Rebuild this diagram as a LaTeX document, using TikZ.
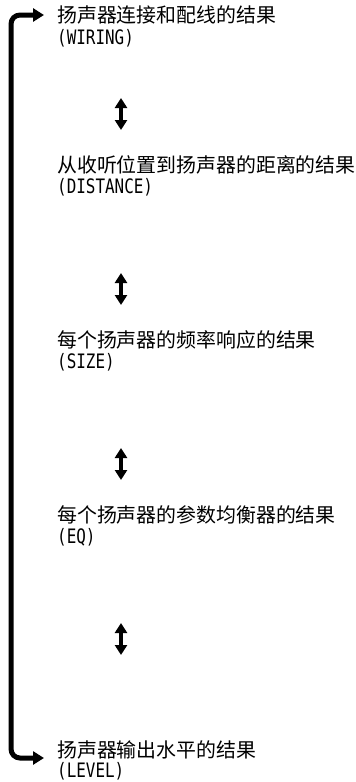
\documentclass[tikz,border=0pt]{standalone}
\usepackage{fontspec}
\newfontfamily\cjk{Noto Sans CJK SC}
\newfontfamily\lat[FakeStretch=0.8]{DejaVu Sans Mono}
\usetikzlibrary{arrows.meta}
\begin{document}
\begin{tikzpicture}[x=1pt,y=-1pt,
  title/.style={anchor=base west,inner sep=0pt,font=\cjk\fontsize{19.9}{22}\selectfont},
  sub/.style={anchor=base west,inner sep=0pt,font=\lat\fontsize{19.9}{22}\selectfont},
  bracket/.style={line width=5pt,rounded corners=9pt,{Triangle[width=13pt,length=11pt]}-{Triangle[width=13pt,length=11pt]}},
  swap/.style={line width=3.5pt,{Triangle[width=12pt,length=10pt]}-{Triangle[width=12pt,length=10pt]}}]
\useasboundingbox[fill=white] (0,0) rectangle (356,782);
% texts
\node[title] (t1) at (57,22) {扬声器连接和配线的结果};
\node[sub]   (s1) at (57,44) {(WIRING)};
\node[title] (t2) at (57,172) {从收听位置到扬声器的距离的结果};
\node[sub]   (s2) at (57,193) {(DISTANCE)};
\node[title] (t3) at (57,347) {每个扬声器的频率响应的结果};
\node[sub]   (s3) at (57,368) {(SIZE)};
\node[title] (t4) at (57,522) {每个扬声器的参数均衡器的结果};
\node[sub]   (s4) at (57,543) {(EQ)};
\node[title] (t5) at (57,757) {扬声器输出水平的结果};
\node[sub]   (s5) at (57,777) {(LEVEL)};
% bracket
\coordinate (ttop) at (44,15);
\coordinate (ctop) at (11,15);
\coordinate (cbot) at (11,758);
\coordinate (tbot) at (44,758);
\draw[bracket] (ttop) -- (ctop) -- (cbot) -- (tbot);
% double arrows
\foreach \i/\y in {1/114,2/289,3/464,4/639}{
  \coordinate (a\i t) at (121,\y-16);
  \coordinate (a\i b) at (121,\y+16);
  \draw[swap] (a\i t) -- (a\i b);
}
\end{tikzpicture}
\end{document}
